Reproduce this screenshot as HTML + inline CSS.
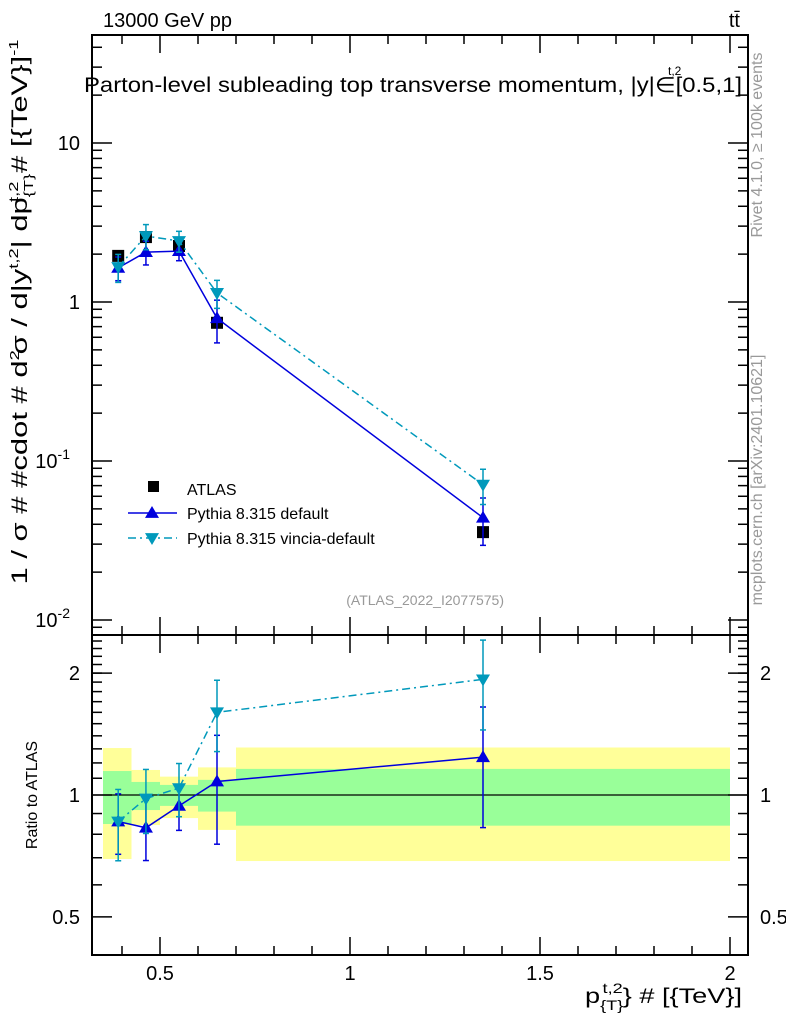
<!DOCTYPE html>
<html><head><meta charset="utf-8"><style>
body{margin:0;background:#fff}
svg text{font-family:"Liberation Sans",sans-serif}
</style></head><body>
<svg id="c" width="786" height="1024" xmlns="http://www.w3.org/2000/svg"></svg>
<script>
const xCenters=[0.39,0.463,0.55,0.65,1.35];
const binEdges=[0.35,0.425,0.5,0.6,0.7,2.0];
const atlas=[1.95,2.56,2.25,0.74,0.0357];
const atlasErr=[0.1,0.15,0.12,0.05,0.003];
const pyDef=[1.64,2.06,2.09,0.79,0.044];
const pyDefRelErr=[0.17,0.17,0.13,0.3,0.33];
const vinc=[1.66,2.6,2.42,1.14,0.071];
const vincRelErr=[0.2,0.18,0.15,0.2,0.25];
const ratioDef=[0.86,0.83,0.94,1.08,1.24];
const ratioVinc=[0.86,0.98,1.04,1.6,1.93];
const bandInnerUp=[1.146,1.077,1.059,1.09,1.16];
const bandInnerDn=[0.848,0.918,0.94,0.91,0.84];
const bandOuterUp=[1.306,1.153,1.11,1.17,1.31];
const bandOuterDn=[0.695,0.843,0.877,0.82,0.687];
const xTicks=[0.5,1,1.5,2];
const xTickLabels=["0.5","1","1.5","2"];
const rTicks=[0.5,1,2];
const rTickLabels=["0.5","1","2"];

const L=92,R=748,T=35,MB=635,RB=955;
const X=v=>160+(v-0.5)*380;
const Y=v=>302-Math.log10(v)*159;
const RY=v=>795-Math.log10(v)*405;
const svg=document.getElementById('c');
const NS='http://www.w3.org/2000/svg';
function el(tag,attrs,parent){const e=document.createElementNS(NS,tag);for(const k in attrs)e.setAttribute(k,attrs[k]);(parent||svg).appendChild(e);return e;}
function txt(s,attrs){const e=el('text',attrs);e.textContent=s;return e;}
function rich(parts,attrs){const t=el('text',attrs);let cur=0;parts.forEach(p=>{const s=el('tspan',{},t);const target=p[1]||0;s.setAttribute('dy',target-cur);cur=target;if(p[2])s.setAttribute('font-size',p[2]);if(p[3])s.setAttribute('dx',p[3]);s.textContent=p[0];});return t;}

for(let i=0;i<5;i++){
  let r=el('rect',{x:X(binEdges[i]),y:RY(bandOuterUp[i]),width:X(binEdges[i+1])-X(binEdges[i]),height:RY(bandOuterDn[i])-RY(bandOuterUp[i]),fill:'#ffff99'});
  
  
  let g=el('rect',{x:X(binEdges[i]),y:RY(bandInnerUp[i]),width:X(binEdges[i+1])-X(binEdges[i]),height:RY(bandInnerDn[i])-RY(bandInnerUp[i]),fill:'#99ff99'});
  
  
}
el('line',{x1:L,x2:R,y1:RY(1),y2:RY(1),stroke:'#000','stroke-width':1.2});

el('rect',{x:L,y:T,width:R-L,height:MB-T,fill:'none',stroke:'#000','stroke-width':2});
el('rect',{x:L,y:MB,width:R-L,height:RB-MB,fill:'none',stroke:'#000','stroke-width':2});

for(let v=0.4;v<=2.0001;v+=0.1){
  const big=Math.abs(v*2-Math.round(v*2))<1e-6;const len=big?18:9;
  for(const [y0,d] of [[T,1],[MB,-1],[MB,1],[RB,-1]]) el('line',{x1:X(v),x2:X(v),y1:y0,y2:y0+d*len,stroke:'#000','stroke-width':1.5});
}
xTicks.forEach((v,i)=>{const t=txt(xTickLabels[i],{x:X(v),y:980,'font-size':20,'text-anchor':'middle'});});

for(let d=-3;d<=1;d++)for(let m=1;m<10;m++){const v=m*Math.pow(10,d);const y=Y(v);if(y<T||y>MB)continue;const len=m==1?20:10;
  el('line',{x1:L,x2:L+len,y1:y,y2:y,stroke:'#000','stroke-width':1.5});el('line',{x1:R,x2:R-len,y1:y,y2:y,stroke:'#000','stroke-width':1.5});}
[["10",10],["1",1]].forEach(([s,v])=>{const t=txt(s,{x:80,y:Y(v)+7,'font-size':20,'text-anchor':'end'});});
[["-1",0.1],["-2",0.01]].forEach(([s,v])=>{const t=el('text',{x:70,y:Y(v)+7,'font-size':20,'text-anchor':'end'});t.textContent='10';const sp=el('tspan',{dy:-9,'font-size':14},t);sp.textContent=s;});

for(const v of [0.5,0.6,0.7,0.8,0.9,1,2]){const len=(v==0.5||v==1||v==2)?20:10;const y=RY(v);
  el('line',{x1:L,x2:L+len,y1:y,y2:y,stroke:'#000','stroke-width':1.5});el('line',{x1:R,x2:R-len,y1:y,y2:y,stroke:'#000','stroke-width':1.5});}
for(let v=1.1;v<2.5;v+=0.1){const y=RY(v);if(y<MB)continue;el('line',{x1:L,x2:L+10,y1:y,y2:y,stroke:'#000','stroke-width':1.5});el('line',{x1:R,x2:R-10,y1:y,y2:y,stroke:'#000','stroke-width':1.5});}
rTicks.forEach((v,i)=>{let t=txt(rTickLabels[i],{x:80,y:RY(v)+7,'font-size':20,'text-anchor':'end'});
 t=txt(rTickLabels[i],{x:760,y:RY(v)+7,'font-size':20});});

function tri(x,y,up,col){const s=7;const p=up?`${x},${y-s} ${x-s},${y+s*0.7} ${x+s},${y+s*0.7}`:`${x},${y+s} ${x-s},${y-s*0.7} ${x+s},${y-s*0.7}`;return el('polygon',{points:p,fill:col});}
function series(vals,yf,col,dash,up,errLo,errHi,name){
  const pts=vals.map((v,i)=>X(xCenters[i])+','+yf(v)).join(' ');
  const pl=el('polyline',{points:pts,fill:'none',stroke:col,'stroke-width':1.5,'stroke-dasharray':dash||''});
  
  
  vals.forEach((v,i)=>{const x=X(xCenters[i]);const y1=yf(errHi[i]),y2=yf(errLo[i]);
    el('line',{x1:x,x2:x,y1:y1,y2:y2,stroke:col,'stroke-width':1.5});
    el('line',{x1:x-3,x2:x+3,y1:y1,y2:y1,stroke:col,'stroke-width':1.5});el('line',{x1:x-3,x2:x+3,y1:y2,y2:y2,stroke:col,'stroke-width':1.5});
    const m=tri(x,yf(v),up,col);});
}
atlas.forEach((v,i)=>{const x=X(xCenters[i]);el('line',{x1:x,x2:x,y1:Y(v+atlasErr[i]),y2:Y(v-atlasErr[i]),stroke:'#000','stroke-width':1.5});
  const r=el('rect',{x:x-6,y:Y(v)-6,width:12,height:12,fill:'#000'});});
series(pyDef,Y,'#0000dd','',true,pyDef.map((v,i)=>v*(1-pyDefRelErr[i])),pyDef.map((v,i)=>v*(1+pyDefRelErr[i])),'pythia-default');
series(vinc,Y,'#0099bb','8,4,2,4',false,vinc.map((v,i)=>v*(1-vincRelErr[i])),vinc.map((v,i)=>v*(1+vincRelErr[i])),'pythia-vincia');
series(ratioDef,RY,'#0000dd','',true,ratioDef.map((v,i)=>v*(1-pyDefRelErr[i])),ratioDef.map((v,i)=>v*(1+pyDefRelErr[i])),'ratio-default');
series(ratioVinc,RY,'#0099bb','8,4,2,4',false,ratioVinc.map((v,i)=>v*(1-vincRelErr[i])),ratioVinc.map((v,i)=>v*(1+vincRelErr[i])),'ratio-vincia');

el('rect',{x:148,y:481,width:11,height:11,fill:'#000'});
txt('ATLAS',{x:187,y:495,'font-size':16});
el('line',{x1:128,x2:177,y1:513,y2:513,stroke:'#0000dd','stroke-width':1.5});tri(152,513,true,'#0000dd');
txt('Pythia 8.315 default',{x:187,y:519,'font-size':16});
el('line',{x1:128,x2:177,y1:538,y2:538,stroke:'#0099bb','stroke-width':1.5,'stroke-dasharray':'8,4,2,4'});tri(152,538,false,'#0099bb');
txt('Pythia 8.315 vincia-default',{x:187,y:544,'font-size':16});
txt('(ATLAS_2022_I2077575)',{x:504,y:605,'font-size':14,fill:'#999','text-anchor':'end'});

txt('13000 GeV pp',{x:103,y:27,'font-size':20});
txt('tt̄',{x:740,y:27,'font-size':20,'text-anchor':'end'});
let tt=txt('Parton-level subleading top transverse momentum, |y|∈[0.5,1]',{x:84,y:92,'font-size':21,textLength:658,lengthAdjust:'spacingAndGlyphs'});

txt('t,2',{x:668,y:75,'font-size':12});
let yt=rich([
 ['1 / σ # #cdot # d',0],['2',-8,13],['σ / d|y',0,null,-3],['t,2',-9,13],['| dp',0],['{T}',6,13],['t,2',-9,13,-20],[' # [{TeV}]',0],['-1',-9,13]
],{x:0,y:0,'font-size':22,'text-anchor':'middle',transform:'translate(27,312) rotate(-90)',textLength:545,lengthAdjust:'spacingAndGlyphs'});

txt('Ratio to ATLAS',{x:0,y:0,'font-size':16,'text-anchor':'middle',transform:'translate(37,795) rotate(-90)'});
let xt=rich([['p',0],['{T}',7,14],['t,2',-10,14,-16],['} # [{TeV}]',0]],{x:742,y:1003,'font-size':21,'text-anchor':'end',textLength:157,lengthAdjust:'spacingAndGlyphs'});

txt('Rivet 4.1.0, ≥ 100k events',{x:0,y:0,'font-size':16,fill:'#999','text-anchor':'middle',transform:'translate(762,145) rotate(-90)'});
txt('mcplots.cern.ch [arXiv:2401.10621]',{x:0,y:0,'font-size':16,fill:'#999','text-anchor':'middle',transform:'translate(762,480) rotate(-90)'});
</script>
</body></html>
